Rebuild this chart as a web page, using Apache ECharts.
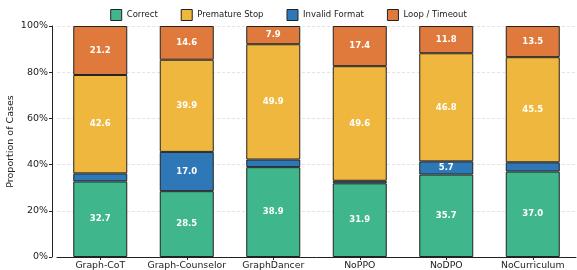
<!DOCTYPE html>
<html>
<head>
<meta charset="utf-8">
<script src="https://cdn.jsdelivr.net/npm/echarts@6/dist/echarts.min.js"></script>
<style>
html, body { margin: 0; padding: 0; background: #fff; }
#chart { width: 577px; height: 270px; }
</style>
</head>
<body>
<div id="chart"></div>
<script>
// datos del gráfico
var categories = ['Graph-CoT', 'Graph-Counselor', 'GraphDancer', 'NoPPO', 'NoDPO', 'NoCurriculum'];
var correct = [32.7, 28.5, 38.9, 31.9, 35.7, 37.0];
var premature = [42.6, 39.9, 49.9, 49.6, 46.8, 45.5];
var invalid = [3.5, 17.0, 3.3, 1.1, 5.7, 4.0];
var loop = [21.2, 14.6, 7.9, 17.4, 11.8, 13.5];
var legendOrder = ['Correct', 'Premature Stop', 'Invalid Format', 'Loop / Timeout'];

var colors = { correct: '#3fb68b', premature: '#f0b73e', invalid: '#2e78b7', loop: '#e07a3c' };
var font = 'DejaVu Sans';

function makeSeries(name, values, color) {
	return {
		name: name,
		type: 'bar',
		stack: 'total',
		barWidth: 54,
		data: values,
		itemStyle: { color: color, borderColor: '#222', borderWidth: 1 },
		label: {
			show: true,
			position: 'inside',
			color: '#fff',
			fontWeight: 'bold',
			fontSize: 8.5,
			fontFamily: font,
			formatter: function (p) {
				return p.value >= 5 ? p.value.toFixed(1) : '';
			}
		}
	};
}

var chart = echarts.init(document.getElementById('chart'));
var option = {
	animation: false,
	textStyle: { fontFamily: font },
	legend: {
		data: legendOrder,
		top: 4,
		left: 'center',
		itemWidth: 11,
		itemHeight: 11,
		itemGap: 23,
		icon: 'rect',
		textStyle: { fontSize: 8.5, color: '#222', fontFamily: font },
		itemStyle: { borderColor: '#222', borderWidth: 1 }
	},
	grid: { left: 57, right: 1, top: 26, bottom: 13, outerBoundsMode: 'none' },
	xAxis: {
		type: 'category',
		data: categories,
		axisLine: { show: true, lineStyle: { color: '#222' } },
		axisTick: { show: true, alignWithLabel: true, length: 3, lineStyle: { color: '#222' } },
		axisLabel: { fontSize: 9.3, color: '#222', margin: 4, fontFamily: font, interval: 0 }
	},
	yAxis: {
		type: 'value',
		min: 0,
		max: 100,
		interval: 20,
		offset: 5,
		name: 'Proportion of Cases',
		nameLocation: 'middle',
		nameGap: 36,
		nameMoveOverlap: false,
		nameTextStyle: { fontSize: 9.5, color: '#222', fontFamily: font },
		axisLine: { show: true, lineStyle: { color: '#222' } },
		axisTick: { show: true, length: 3, lineStyle: { color: '#222' } },
		axisLabel: {
			formatter: '{value}%',
			fontSize: 9.5,
			color: '#222',
			margin: 4,
			fontFamily: font
		},
		splitLine: { show: true, lineStyle: { color: '#ddd', type: [3, 2], width: 0.8 } }
	},
	series: [
		makeSeries('Correct', correct, colors.correct),
		makeSeries('Invalid Format', invalid, colors.invalid),
		makeSeries('Premature Stop', premature, colors.premature),
		makeSeries('Loop / Timeout', loop, colors.loop)
	]
};
chart.setOption(option);
</script>
</body>
</html>
